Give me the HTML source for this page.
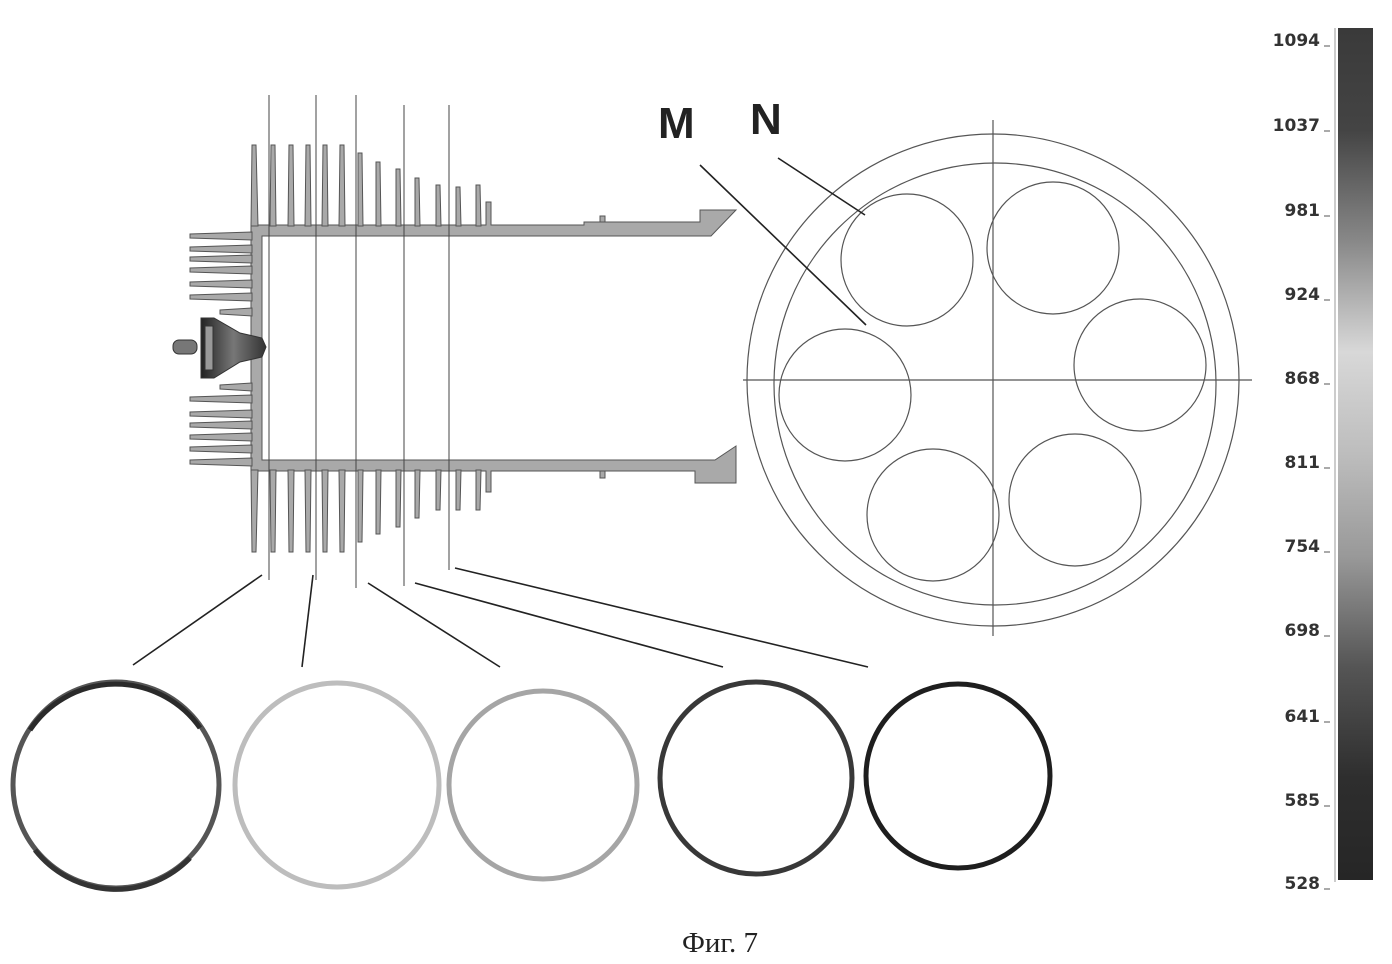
<!DOCTYPE html>
<html><head><meta charset="utf-8"><style>
html,body{margin:0;padding:0;background:#fff;}
svg{display:block;}
</style></head><body>
<svg width="1392" height="964" viewBox="0 0 1392 964" xmlns="http://www.w3.org/2000/svg">
<defs>
<linearGradient id="cb" x1="0" y1="0" x2="0" y2="1">
<stop offset="0" stop-color="#3a3a3a"/>
<stop offset="0.12" stop-color="#444"/>
<stop offset="0.25" stop-color="#888"/>
<stop offset="0.38" stop-color="#d8d8d8"/>
<stop offset="0.5" stop-color="#bdbdbd"/>
<stop offset="0.62" stop-color="#999"/>
<stop offset="0.75" stop-color="#555"/>
<stop offset="0.88" stop-color="#2e2e2e"/>
<stop offset="1" stop-color="#262626"/>
</linearGradient>
<linearGradient id="plug" x1="0" y1="0" x2="1" y2="0">
<stop offset="0" stop-color="#222"/><stop offset="0.5" stop-color="#777"/><stop offset="1" stop-color="#333"/>
</linearGradient>
</defs>
<g fill="#a9a9a9" stroke="#555" stroke-width="1">
<path d="M251,225 H486 V202 H491 V225 H584 V222 H700 V210 H736 L711,236 H262 V460 H715 L736,446 V483 H695 V471 H491 V492 H486 V471 H251 Z"/>
<path d="M251,226 L252,145 L256,145 L258,226Z M270,226 L271,145 L275,145 L276,226Z M288,226 L289,145 L293,145 L294,226Z M305,226 L306,145 L310,145 L311,226Z M322,226 L323,145 L327,145 L328,226Z M339,226 L340,145 L344,145 L345,226Z M358,226 L358,153 L362,153 L363,226Z M376,226 L376,162 L380,162 L381,226Z M396,226 L396,169 L400,169 L401,226Z M415,226 L415,178 L419,178 L420,226Z M436,226 L436,185 L440,185 L441,226Z M456,226 L456,187 L460,187 L461,226Z M476,226 L476,185 L480,185 L481,226Z"/>
<path d="M251,470 L252,552 L256,552 L258,470Z M270,470 L271,552 L275,552 L276,470Z M288,470 L289,552 L293,552 L294,470Z M305,470 L306,552 L310,552 L311,470Z M322,470 L323,552 L327,552 L328,470Z M339,470 L340,552 L344,552 L345,470Z M358,470 L358,542 L362,542 L363,470Z M376,470 L376,534 L380,534 L381,470Z M396,470 L396,527 L400,527 L401,470Z M415,470 L415,518 L419,518 L420,470Z M436,470 L436,510 L440,510 L441,470Z M456,470 L456,510 L460,510 L461,470Z M476,470 L476,510 L480,510 L481,470Z"/>
<path d="M252,232 L190,234 L190,238 L252,240Z M252,245 L190,247 L190,251 L252,253Z M252,255 L190,257 L190,261 L252,263Z M252,266 L190,268 L190,272 L252,274Z M252,280 L190,282 L190,286 L252,288Z M252,293 L190,295 L190,299 L252,301Z M252,308 L220,310 L220,314 L252,316Z M252,383 L220,385 L220,389 L252,391Z M252,395 L190,397 L190,401 L252,403Z M252,410 L190,412 L190,416 L252,418Z M252,421 L190,423 L190,427 L252,429Z M252,433 L190,435 L190,439 L252,441Z M252,445 L190,447 L190,451 L252,453Z M252,458 L190,460 L190,464 L252,466Z"/>
<path d="M600,222 V216 H605 V222Z M600,471 V478 H605 V471Z"/>
</g>
<g stroke="#333" stroke-width="1">
<rect x="173" y="340" width="24" height="14" rx="6" fill="#777"/>
<path d="M201,318 L214,318 L240,333 L262,338 L266,347 L262,357 L240,362 L214,378 L201,378Z" fill="url(#plug)"/>
<rect x="205" y="326" width="8" height="44" fill="#999"/>
</g>
<g stroke="#444" stroke-width="1">
<line x1="269" y1="95" x2="269" y2="580"/>
<line x1="316" y1="95" x2="316" y2="580"/>
<line x1="356" y1="95" x2="356" y2="588"/>
<line x1="404" y1="105" x2="404" y2="586"/>
<line x1="449" y1="105" x2="449" y2="570"/>
</g>
<g stroke="#222" stroke-width="1.6">
<line x1="262" y1="575" x2="133" y2="665"/>
<line x1="313" y1="575" x2="302" y2="667"/>
<line x1="368" y1="583" x2="500" y2="667"/>
<line x1="415" y1="583" x2="723" y2="667"/>
<line x1="455" y1="568" x2="868" y2="667"/>
</g>
<g fill="none">
<circle cx="116" cy="785" r="103" stroke="#555" stroke-width="5"/>
<path d="M30,730 A103,103 0 0 1 200,728" stroke="#2a2a2a" stroke-width="5"/>
<path d="M35,850 A103,103 0 0 0 190,858" stroke="#333" stroke-width="5"/>
<circle cx="337" cy="785" r="102" stroke="#bdbdbd" stroke-width="5"/>
<circle cx="543" cy="785" r="94" stroke="#a5a5a5" stroke-width="5"/>
<circle cx="756" cy="778" r="96" stroke="#383838" stroke-width="5"/>
<circle cx="958" cy="776" r="92" stroke="#1e1e1e" stroke-width="5"/>
</g>
<g fill="none" stroke="#555" stroke-width="1.2">
<circle cx="993" cy="380" r="246"/>
<circle cx="995" cy="384" r="221"/>
<line x1="743" y1="380" x2="1252" y2="380"/>
<line x1="993" y1="120" x2="993" y2="636"/>
<circle cx="907" cy="260" r="66"/>
<circle cx="1053" cy="248" r="66"/>
<circle cx="1140" cy="365" r="66"/>
<circle cx="1075" cy="500" r="66"/>
<circle cx="933" cy="515" r="66"/>
<circle cx="845" cy="395" r="66"/>
</g>
<g stroke="#222" stroke-width="1.6">
<line x1="700" y1="165" x2="866" y2="325"/>
<line x1="778" y1="158" x2="865" y2="215"/>
</g>
<g font-family="Liberation Sans, sans-serif" font-weight="bold" font-size="44" fill="#222">
<text x="658" y="138">M</text>
<text x="750" y="134">N</text>
</g>
<rect x="1338" y="28" width="35" height="852" fill="url(#cb)"/>
<line x1="1335" y1="28" x2="1335" y2="882" stroke="#999" stroke-width="1"/>
<g stroke="#555" stroke-width="1">
<line x1="1324" y1="46" x2="1330" y2="46"/><line x1="1324" y1="131" x2="1330" y2="131"/><line x1="1324" y1="216" x2="1330" y2="216"/><line x1="1324" y1="300" x2="1330" y2="300"/><line x1="1324" y1="384" x2="1330" y2="384"/><line x1="1324" y1="468" x2="1330" y2="468"/><line x1="1324" y1="552" x2="1330" y2="552"/><line x1="1324" y1="636" x2="1330" y2="636"/><line x1="1324" y1="722" x2="1330" y2="722"/><line x1="1324" y1="806" x2="1330" y2="806"/><line x1="1324" y1="889" x2="1330" y2="889"/>
</g>
<g font-family="DejaVu Sans, sans-serif" font-weight="bold" font-size="17" fill="#333" text-anchor="end">
<text x="1320" y="46">1094</text>
<text x="1320" y="131">1037</text>
<text x="1320" y="216">981</text>
<text x="1320" y="300">924</text>
<text x="1320" y="384">868</text>
<text x="1320" y="468">811</text>
<text x="1320" y="552">754</text>
<text x="1320" y="636">698</text>
<text x="1320" y="722">641</text>
<text x="1320" y="806">585</text>
<text x="1320" y="889">528</text>
</g>
<text x="720" y="952" font-family="Liberation Serif, serif" font-size="29" fill="#222" text-anchor="middle">Фиг. 7</text>
</svg>
</body></html>
